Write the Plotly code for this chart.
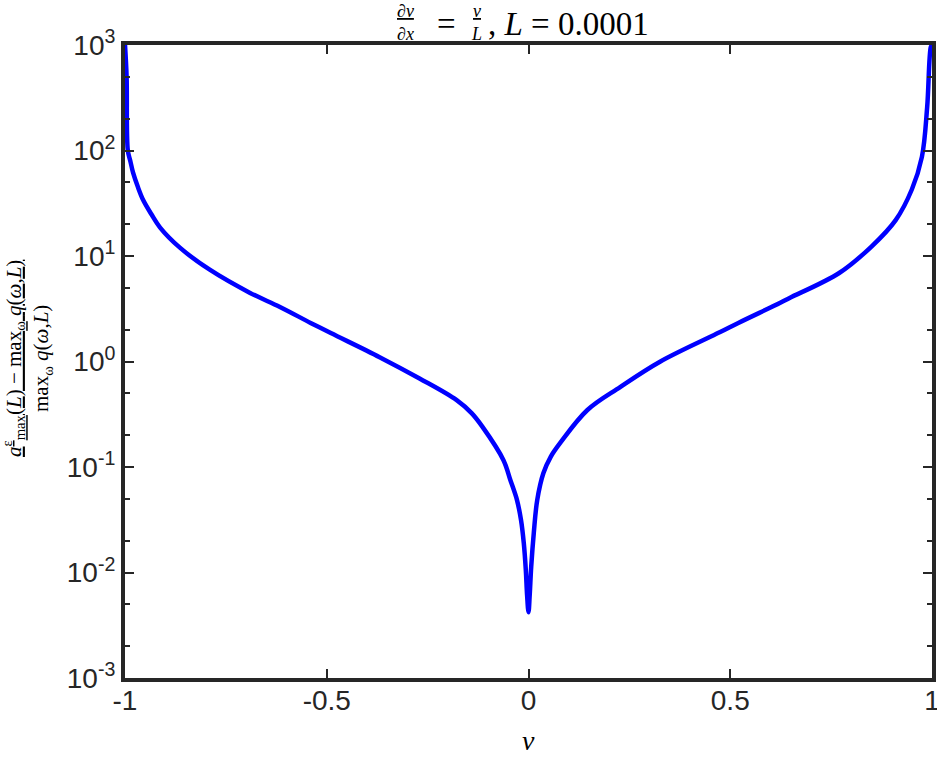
import plotly.graph_objects as go

# curve (v, relative gap)
v_vals = [-1.0, -0.996, -0.993, -0.987, -0.980, -0.968, -0.955, -0.935, -0.913, -0.864,
          -0.79, -0.69, -0.616, -0.54, -0.49, -0.369, -0.27, -0.178, -0.141, -0.114,
          -0.062, -0.045, -0.0285, -0.0186, -0.0117, -0.0067, -0.0035, 0.0,
          0.003, 0.0067, 0.0131, 0.0216, 0.037, 0.055, 0.079, 0.146, 0.228, 0.327,
          0.475, 0.52, 0.624, 0.646, 0.77, 0.85, 0.91, 0.95, 0.975, 0.988, 0.997, 1.0]
gap_vals = [1000, 500, 100, 80, 61.7, 45, 33.9, 25, 18.6, 12.0,
            7.41, 4.47, 3.29, 2.32, 1.86, 1.10, 0.69, 0.43, 0.324, 0.24,
            0.116, 0.0753, 0.0486, 0.0315, 0.019, 0.0106, 0.0061, 0.0042,
            0.0061, 0.0113, 0.0237, 0.0486, 0.0877, 0.125, 0.17, 0.347, 0.575, 1.0,
            1.9, 2.32, 3.6, 3.98, 6.9, 12.3, 21.9, 42.7, 87, 257, 955, 1000]

x_ticks = [-1, -0.5, 0, 0.5, 1]
x_ticktext = ['-1', '-0.5', '0', '0.5', '1']
y_ticks = [1e-3, 1e-2, 1e-1, 1, 10, 100, 1000]
y_ticktext = ['10<sup>-3</sup>', '10<sup>-2</sup>', '10<sup>-1</sup>', '10<sup>0</sup>',
              '10<sup>1</sup>', '10<sup>2</sup>', '10<sup>3</sup>']

axcol = '#262626'
serif = 'Liberation Serif, DejaVu Serif, serif'

# plot box in pixels
L, R, T, B = 125, 932, 45, 678


def px(x):
    return (x - L) / (R - L)


def py(y):
    return (B - y) / (B - T)


fig = go.Figure()
fig.add_trace(go.Scatter(x=v_vals, y=gap_vals, mode='lines',
                         line=dict(color='#0000ff', width=4.5, shape='spline', smoothing=1.0),
                         showlegend=False))

fig.update_layout(
    width=937, height=761,
    margin=dict(l=L, r=937 - R, t=T, b=761 - B),
    plot_bgcolor='white', paper_bgcolor='white',
    font=dict(family='Liberation Sans, Arial, sans-serif', size=28, color=axcol),
)

fig.update_xaxes(
    range=[-1, 1], tickvals=x_ticks, ticktext=x_ticktext, automargin=False,
    showgrid=False, zeroline=False,
    showline=True, linecolor=axcol, linewidth=4, mirror='allticks',
    ticks='inside', ticklen=9, tickwidth=2, tickcolor=axcol,
    tickfont=dict(size=28, color=axcol), ticklabelstandoff=-6,
    ticklabeloverflow='allow',
)
fig.update_yaxes(
    type='log', range=[-3, 3], tickvals=y_ticks, ticktext=y_ticktext, automargin=False,
    showgrid=False, zeroline=False,
    showline=True, linecolor=axcol, linewidth=4, mirror='allticks',
    ticks='inside', ticklen=9, tickwidth=2, tickcolor=axcol,
    tickfont=dict(size=28, color=axcol),
    minor=dict(ticks='inside', ticklen=5, tickwidth=2, tickcolor=axcol, showgrid=False),
)

# title, built from pieces so the fractions stack
title_parts = [
    ('<u><i>∂v</i></u><br><i>∂x</i>', 405, 23, 18, 'center'),
    ('=', 446, 24, 33, 'center'),
    ('<u><i>v</i></u><br><i>L</i>', 476, 23, 18, 'center'),
    (', <i>L</i> = 0.0001', 486, 24, 33, 'left'),
]
for txt, x0, y0, sz, anchor in title_parts:
    fig.add_annotation(text=txt, xref='paper', yref='paper', x=px(x0), y=py(y0),
                       showarrow=False, xanchor=anchor, yanchor='middle',
                       font=dict(family=serif, size=sz, color='black'))

# axis labels
fig.add_annotation(text='<i>v</i>', xref='paper', yref='paper', x=px(528), y=py(740),
                   showarrow=False, xanchor='center', yanchor='middle',
                   font=dict(family=serif, size=28, color='black'))
fig.add_annotation(
    text='<u><i>a</i><sup>ε</sup><sub>max</sub>(<i>L</i>) − max<sub>ω</sub> <i>q</i>(<i>ω</i>,<i>L</i>)</u>'
         '<br>max<sub>ω</sub> <i>q</i>(<i>ω</i>,<i>L</i>)',
    xref='paper', yref='paper', x=px(27), y=py(359), textangle=-90,
    showarrow=False, xanchor='center', yanchor='middle',
    font=dict(family=serif, size=21, color='black'))

fig.write_html('out.html', config={'displayModeBar': False},
               post_script="document.body.style.margin='0';")
